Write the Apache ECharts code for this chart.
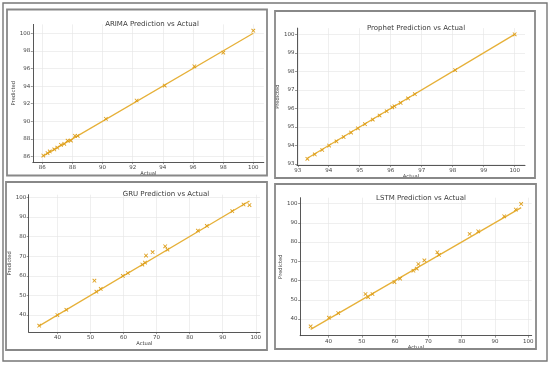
<!DOCTYPE html>
<html>
<head>
<meta charset="utf-8">
<script src="https://cdn.jsdelivr.net/npm/echarts@6/dist/echarts.min.js"></script>
<style>html,body{margin:0;padding:0;background:#fff;}#c{width:550px;height:366px;}</style>
</head>
<body>
<div id="c"></div>
<script>
// ---- data ----
const titles = ['ARIMA Prediction vs Actual', 'Prophet Prediction vs Actual', 'GRU Prediction vs Actual', 'LSTM Prediction vs Actual'];
const arimaActual = [86.07, 86.35, 86.5, 86.8, 87.0, 87.24, 87.46, 87.68, 87.9, 88.17, 88.35, 90.22, 92.26, 94.12, 96.09, 98.01, 100.0];
const arimaPred   = [86.1, 86.38, 86.57, 86.8, 87.0, 87.32, 87.44, 87.8, 87.8, 88.35, 88.35, 90.28, 92.36, 94.06, 96.25, 97.8, 100.3];
const prophetActual = [93.31, 93.55, 93.79, 94.01, 94.25, 94.48, 94.72, 94.94, 95.17, 95.42, 95.64, 95.87, 96.05, 96.12, 96.32, 96.56, 96.78, 98.08, 100.0];
const prophetPred   = [93.28, 93.52, 93.76, 94.0, 94.22, 94.46, 94.7, 94.93, 95.15, 95.4, 95.62, 95.85, 96.06, 96.12, 96.3, 96.54, 96.77, 98.07, 100.0];
const gruActual = [34.5, 40.0, 42.7, 51.2, 51.8, 53.1, 59.8, 61.3, 65.7, 66.5, 66.8, 68.8, 72.6, 73.3, 82.5, 85.2, 92.9, 96.3, 98.1];
const gruPred   = [34.6, 40.0, 42.7, 57.5, 51.9, 53.3, 59.9, 61.4, 65.7, 66.7, 70.3, 72.0, 75.0, 73.3, 83.0, 85.4, 92.9, 96.3, 96.0];
const lstmActual = [34.6, 40.1, 42.9, 51.1, 51.9, 53.2, 59.8, 61.5, 65.5, 66.5, 67.0, 68.8, 72.7, 73.2, 82.4, 85.0, 92.8, 96.3, 97.9];
const lstmPred   = [36.2, 40.7, 43.1, 53.0, 51.4, 53.0, 59.2, 61.0, 65.1, 66.2, 68.6, 70.5, 74.7, 73.3, 84.2, 85.6, 93.4, 96.9, 99.8];
const ticksArima = [86, 88, 90, 92, 94, 96, 98, 100];
const ticksProphet = [93, 94, 95, 96, 97, 98, 99, 100];
const ticksDL = [40, 50, 60, 70, 80, 90, 100];

const panels = [
  {a: arimaActual, p: arimaPred, ticks: ticksArima},
  {a: prophetActual, p: prophetPred, ticks: ticksProphet},
  {a: gruActual, p: gruPred, ticks: ticksDL},
  {a: lstmActual, p: lstmPred, ticks: ticksDL}
];

// layout (px)
const grids = [
  {left: 32.8, top: 24.4, width: 231, height: 137.7},
  {left: 297, top: 28.1, width: 228, height: 137},
  {left: 28.7, top: 194.7, width: 231.3, height: 137.4},
  {left: 300.1, top: 197.7, width: 231.6, height: 138}
];
const titlePos = [[147, 15.5], [411, 19.5], [161, 185.5], [416, 189.5]];
const yNameGap = [11, 14.5, 12, 12.5];
const xNameGap = [7.5, 7.5, 7.5, 7.5];
const frames = [[7, 9.5, 260, 166], [275, 11, 260, 167], [6, 182, 261, 168], [275, 184, 261, 165]];

const FONT = 'DejaVu Sans';
const LINE_C = '#e6b038';
const PT_C = '#de9f1c';
const X_SYM = 'path://M0,1.5L1.5,0L5,3.5L8.5,0L10,1.5L6.5,5L10,8.5L8.5,10L5,6.5L1.5,10L0,8.5L3.5,5Z';

function limits(vals) {
  const mn = Math.min(...vals), mx = Math.max(...vals);
  const m = (mx - mn) * 0.05;
  return [mn - m, mx + m];
}

const option = {
  animation: false,
  backgroundColor: '#fff',
  title: [], grid: [], xAxis: [], yAxis: [], series: [],
  graphic: []
};

panels.forEach((pn, i) => {
  const amin = Math.min(...pn.a), amax = Math.max(...pn.a);
  const xl = limits(pn.a);
  const yl = limits(pn.p.concat([amin, amax]));
  option.title.push({
    text: titles[i], left: titlePos[i][0], top: titlePos[i][1], textAlign: 'center',
    textStyle: {fontFamily: FONT, fontSize: 7, fontWeight: 'normal', color: '#3a3a3a'}
  });
  option.grid.push(Object.assign({containLabel: false}, grids[i]));
  const axisCommon = (lim, nameGap, isY) => ({
    type: 'value', gridIndex: i, min: lim[0], max: lim[1],
    name: isY ? 'Predicted' : 'Actual', nameLocation: 'middle', nameGap: nameGap,
    nameTextStyle: {fontFamily: FONT, fontSize: 5.2, color: '#3a3a3a'},
    axisLine: {show: true, onZero: false, lineStyle: {color: '#444', width: 0.9}},
    axisTick: {show: true, length: 2, customValues: pn.ticks, lineStyle: {color: '#555', width: 0.6}},
    axisLabel: {customValues: pn.ticks, fontFamily: FONT, fontSize: 5.5, color: '#444', margin: 2.5},
    splitLine: {show: true, lineStyle: {color: '#e4e4e4', width: 0.6}}
  });
  option.xAxis.push(axisCommon(xl, xNameGap[i], false));
  option.yAxis.push(axisCommon(yl, yNameGap[i], true));
  option.series.push({
    type: 'line', xAxisIndex: i, yAxisIndex: i, showSymbol: false, silent: true,
    data: [[amin, amin], [amax, amax]],
    lineStyle: {color: LINE_C, width: 1.3}, z: 2
  });
  option.series.push({
    type: 'scatter', xAxisIndex: i, yAxisIndex: i, symbol: X_SYM, symbolSize: 4.2,
    data: pn.a.map((v, k) => [v, pn.p[k]]),
    itemStyle: {color: PT_C, opacity: 1}, z: 3
  });
  const f = frames[i];
  option.graphic.push({
    type: 'rect', shape: {x: f[0], y: f[1], width: f[2], height: f[3]},
    style: {fill: 'none', stroke: '#888', lineWidth: 1.8}, z: 10, silent: true
  });
});
option.graphic.push({
  type: 'rect', shape: {x: 3, y: 3, width: 544, height: 358},
  style: {fill: 'none', stroke: '#777', lineWidth: 1.4}, z: 10, silent: true
});

const chart = echarts.init(document.getElementById('c'), null, {renderer: 'canvas'});
chart.setOption(option);
</script>
</body>
</html>
